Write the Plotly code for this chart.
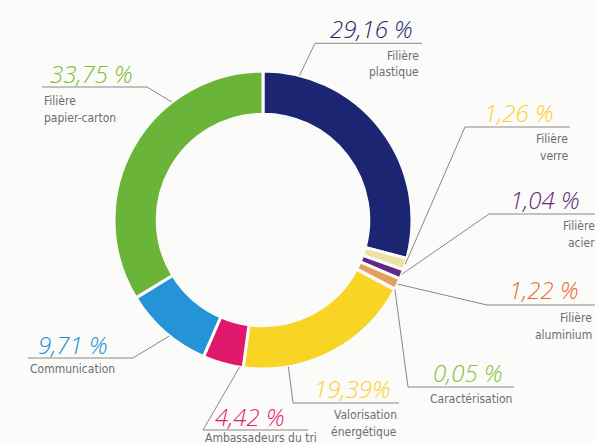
import math
import plotly.graph_objects as go

# ---------------- data ----------------
categories = ["Filière plastique", "Filière verre", "Filière acier", "Filière aluminium",
              "Caractérisation", "Valorisation énergétique", "Ambassadeurs du tri",
              "Communication", "Filière papier-carton"]
values = [29.16, 1.26, 1.04, 1.22, 0.05, 19.39, 4.42, 9.71, 33.75]
pct_labels = ["29,16 %", "1,26 %", "1,04 %", "1,22 %", "0,05 %", "19,39%", "4,42 %", "9,71 %", "33,75 %"]
label_lines = [["Filière", "plastique"], ["Filière", "verre"], ["Filière", "acier"],
               ["Filière", "aluminium"], ["Caractérisation"], ["Valorisation", "énergétique"],
               ["Ambassadeurs du tri"], ["Communication"], ["Filière", "papier-carton"]]

# ---------------- styles ----------------
slice_colors = ["#1c2571", "#ece2a6", "#5e2a86", "#e2a05e", "#a9b79c",
                "#f8d424", "#e0186c", "#2494d6", "#6ab43a"]
text_colors = ["#1f2a6b", "#fcd02c", "#6c2482", "#ec6a24", "#86c23a",
               "#fcd02c", "#e5197a", "#1b8fd1", "#7dbb2a"]
GRAY = "#6d6e71"
LINE = "#7a7a7a"
BG = "#fbfbfa"
LABEL_FONT = "'Liberation Sans Narrow', 'DejaVu Sans Condensed', Roboto, 'Liberation Sans', sans-serif"

W, H = 595, 444
CX, CY, R = 263, 220, 149
HOLE = 0.71

# layout of each callout (pixel positions): side, line y, elbow x, end x,
# pct anchor x, pct y, label anchor x, first label y, anchor fraction in slice
callouts = [
    ("right", 43.3, 315, 422, 415, 27.5, 421, 54.5, 0.135),
    ("right", 127, 465, 570, 556, 112, 570, 138, 0.5),
    ("right", 214, 489, 597, 582, 198, 597, 225, 0.5),
    ("right", 305, 487, 597, 581, 288.5, 594, 317, 0.5),
    ("right", 387, 408, 514, 505, 371, 514, 398, 0.5),
    ("right", 403, 293, 399, 393, 387.5, 399, 414, 0.75),
    ("left", 430, 203, 308, 213, 415, 203, 437, 0.09),
    ("left", 358, 133, 28, 36, 343, 28, 368, 0.44),
    ("left", 87, 147, 42, 48, 72, 42, 100, 0.69),
]
LINE_STEP = 17


def px(x):
    return x / W


def py(y):
    return 1 - y / H


fig = go.Figure()
fig.add_trace(go.Pie(
    labels=categories, values=values, sort=False, direction="clockwise", rotation=0,
    hole=HOLE, textinfo="none", hoverinfo="label+percent",
    marker=dict(colors=slice_colors, line=dict(color=BG, width=3)),
    domain=dict(x=[px(CX - R), px(CX + R)], y=[py(CY + R), py(CY - R)]),
    showlegend=False,
))

total = sum(values)
shapes = []
annotations = []
cum = 0.0
for i, v in enumerate(values):
    side, ly, ex, endx, pxx, pyy, lx, l0, frac = callouts[i]
    ang = math.radians((cum + frac * v) / total * 360.0)
    cum += v
    ax = CX + R * math.sin(ang)
    ay = CY - R * math.cos(ang)
    shapes.append(dict(type="line", xref="paper", yref="paper",
                       x0=px(ax), y0=py(ay), x1=px(ex), y1=py(ly),
                       line=dict(color=LINE, width=0.9)))
    shapes.append(dict(type="line", xref="paper", yref="paper",
                       x0=px(ex), y0=py(ly), x1=px(endx), y1=py(ly),
                       line=dict(color=LINE, width=0.9)))
    anchor = "right" if side == "right" else "left"
    annotations.append(dict(
        text=pct_labels[i], xref="paper", yref="paper", x=px(pxx), y=py(pyy + 1),
        xanchor=anchor, yanchor="middle", showarrow=False,
        font=dict(family="Open Sans", size=24, color=text_colors[i], style="italic", weight=300),
    ))
    for j, t in enumerate(label_lines[i]):
        annotations.append(dict(
            text=t, xref="paper", yref="paper", x=px(lx), y=py(l0 + j * LINE_STEP + 1),
            xanchor=anchor, yanchor="middle", showarrow=False,
            font=dict(family=LABEL_FONT, size=12, color=GRAY),
        ))

fig.update_layout(
    width=W, height=H, autosize=False,
    margin=dict(l=0, r=0, t=0, b=0, pad=0),
    paper_bgcolor=BG, plot_bgcolor=BG,
    shapes=shapes, annotations=annotations,
)

fig.write_html("out.html", config={"displayModeBar": False},
               post_script="document.body.style.margin='0';")
